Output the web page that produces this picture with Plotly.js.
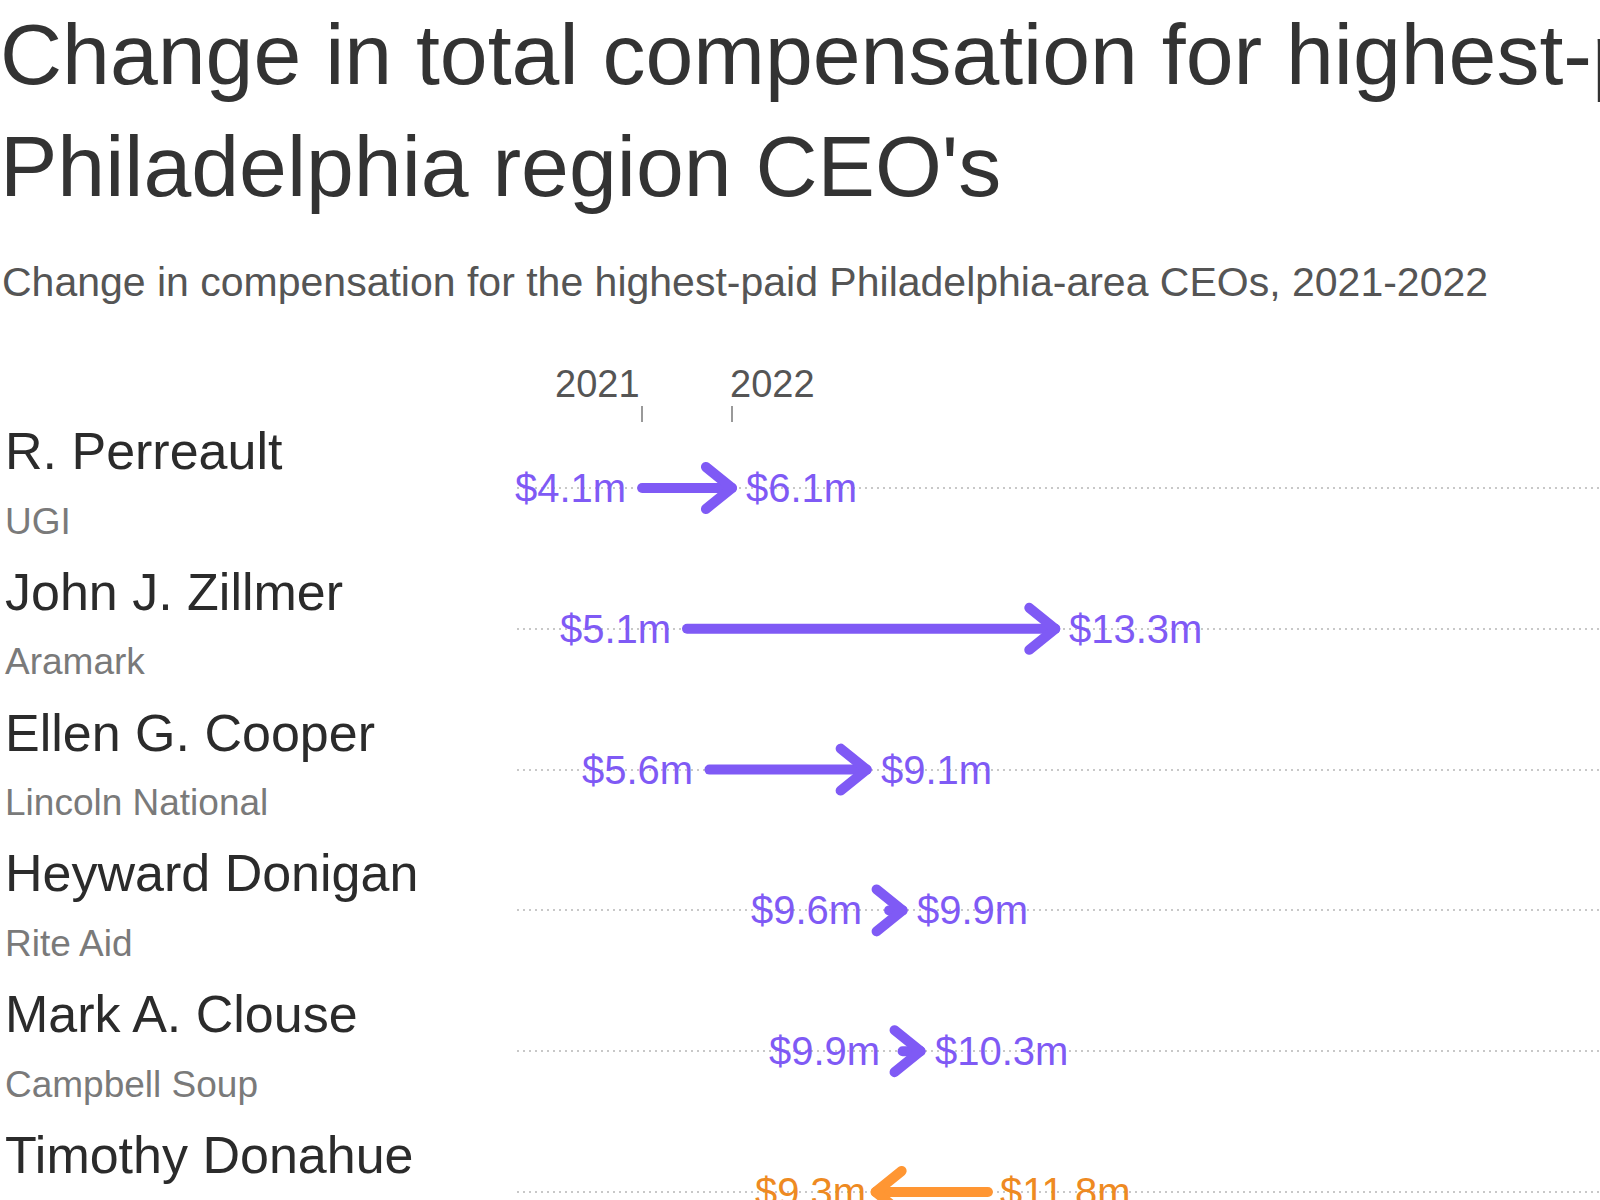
<!DOCTYPE html>
<html>
<head>
<meta charset="utf-8">
<script src="https://cdn.plot.ly/plotly-3.0.1.min.js"></script>
<style>
  html, body { margin: 0; padding: 0; background: #fff; overflow: hidden; }
  #chart { width: 1600px; height: 1200px; }
  .scatterlayer path.js-line { stroke-linecap: round !important; stroke-linejoin: round !important; }
</style>
</head>
<body>
<div id="chart"></div>
<script>
// ---- data ----
const names = ["R. Perreault", "John J. Zillmer", "Ellen G. Cooper", "Heyward Donigan", "Mark A. Clouse", "Timothy Donahue"];
const companies = ["UGI", "Aramark", "Lincoln National", "Rite Aid", "Campbell Soup", "Crown Holdings"];
const comp2021 = [4.1, 5.1, 5.6, 9.6, 9.9, 11.8];
const comp2022 = [6.1, 13.3, 9.1, 9.9, 10.3, 9.3];
const yearLabels = ["2021", "2022"];
const titleText = "Change in total compensation for highest-paid<br>Philadelphia region CEO's";
const subtitleText = "Change in compensation for the highest-paid Philadelphia-area CEOs, 2021-2022";

// ---- style ----
const FONT = "Liberation Sans, Arial, sans-serif";
const UP = "#7f5af5";
const DOWN = "#ff9633";
const DOWN_TEXT = "#ee8a22";
const W = 1600, H = 1200;
const M = {l: 517, r: 0, t: 406, b: 0};
const plotW = W - M.l - M.r, plotH = H - M.t - M.b;
const xRange = [1.314, 25.43];
const rowPx = 140.8;
const firstRowPx = 82;
const yRange = [(plotH - firstRowPx) / rowPx, -firstRowPx / rowPx];
const pxPerX = plotW / (xRange[1] - xRange[0]);
const headW = 26 / pxPerX;   // chevron depth in data units
const headH = 21 / rowPx;    // chevron half height in row units

const traces = [];
const annotations = [];
const fmt = v => "$" + v.toFixed(1) + "m";

names.forEach((n, i) => {
  const a = comp2021[i], b = comp2022[i];
  const dir = b >= a ? 1 : -1;
  const col = dir > 0 ? UP : DOWN;
  traces.push({
    type: "scatter", mode: "lines",
    x: [a, b, null, b - dir * headW, b, b - dir * headW],
    y: [i, i, null, i - headH, i, i + headH],
    line: {color: col, width: 10},
    hoverinfo: "skip", showlegend: false
  });
  const tcol = dir > 0 ? UP : DOWN_TEXT;
  const lo = Math.min(a, b), hi = Math.max(a, b);
  // left label: clear of the line start, or of the chevron when the change is tiny
  let loAnchor = lo, loShift = (lo === a ? -14 : -8);
  if (dir > 0 && b - headW < a) { loAnchor = b - headW; loShift = -13; }
  let hiAnchor = hi, hiShift = (hi === b ? 12 : 10);
  if (dir < 0 && b + headW > a) { hiAnchor = b + headW; hiShift = 13; }
  annotations.push({x: loAnchor, y: i, xref: "x", yref: "y", text: fmt(lo), showarrow: false,
    xanchor: "right", yanchor: "middle", xshift: loShift,
    font: {family: FONT, size: 40, color: tcol}});
  annotations.push({x: hiAnchor, y: i, xref: "x", yref: "y", text: fmt(hi), showarrow: false,
    xanchor: "left", yanchor: "middle", xshift: hiShift,
    font: {family: FONT, size: 40, color: tcol}});
  annotations.push({x: (3 - M.l) / plotW, y: i, xref: "paper", yref: "y", text: n, showarrow: false,
    xanchor: "left", yanchor: "middle", yshift: 37,
    font: {family: FONT, size: 52, color: "#2b2b2b"}});
  annotations.push({x: (3 - M.l) / plotW, y: i, xref: "paper", yref: "y", text: companies[i], showarrow: false,
    xanchor: "left", yanchor: "middle", yshift: -33,
    font: {family: FONT, size: 37, color: "#7a7a7a"}});
});

// year labels on the first row's endpoints
annotations.push({x: comp2021[0], y: (H - 384) / plotH, xref: "x", yref: "paper", text: yearLabels[0],
  showarrow: false, xanchor: "right", yanchor: "middle", font: {family: FONT, size: 38, color: "#555"}});
annotations.push({x: comp2022[0], y: (H - 384) / plotH, xref: "x", yref: "paper", text: yearLabels[1],
  showarrow: false, xanchor: "left", yanchor: "middle", xshift: -4, font: {family: FONT, size: 38, color: "#555"}});
// subtitle
annotations.push({x: (0 - M.l) / plotW, y: (H - 282) / plotH, xref: "paper", yref: "paper", text: subtitleText,
  showarrow: false, xanchor: "left", yanchor: "middle", font: {family: FONT, size: 41, color: "#555"}});

const layout = {
  width: W, height: H,
  margin: M,
  paper_bgcolor: "#fff", plot_bgcolor: "#fff",
  title: {text: titleText, x: 0, xref: "container", xanchor: "left", y: 1, yref: "container", yanchor: "top",
    pad: {t: 84, l: 0}, font: {family: FONT, size: 86, color: "#333"}},
  xaxis: {range: xRange, side: "top", showgrid: false, zeroline: false, showline: false,
    tickmode: "array", tickvals: [comp2021[0], comp2022[0]], ticks: "inside", ticklen: 16,
    tickwidth: 2, tickcolor: "#999", showticklabels: false, fixedrange: true},
  yaxis: {range: yRange, tickmode: "array", tickvals: names.map((_, i) => i), showgrid: true,
    griddash: "2px,4px", gridcolor: "#c8c8c8", gridwidth: 2, zeroline: false, showline: false,
    showticklabels: false, ticks: "", fixedrange: true},
  annotations: annotations,
  showlegend: false,
  hovermode: false
};

Plotly.newPlot("chart", traces, layout, {displayModeBar: false, staticPlot: true});
</script>
</body>
</html>
